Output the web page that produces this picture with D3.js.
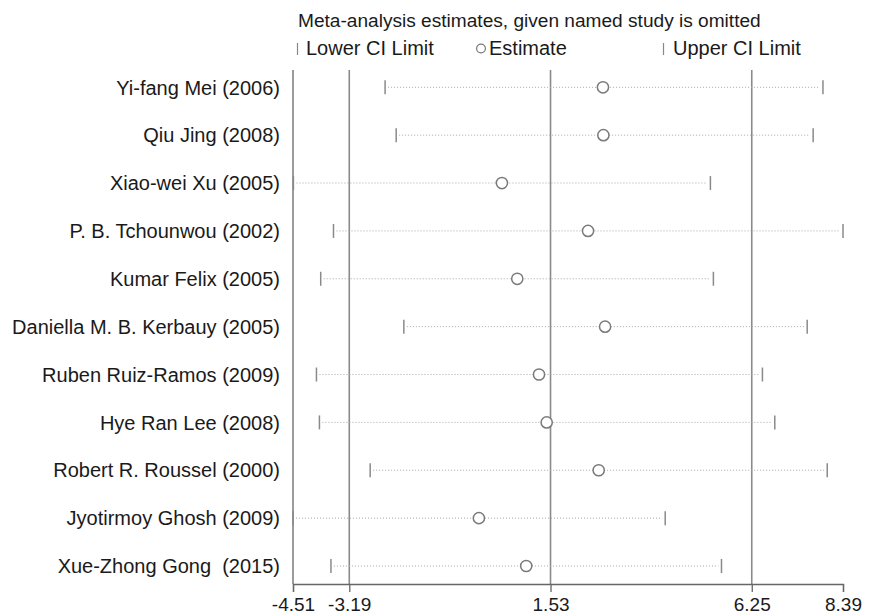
<!DOCTYPE html>
<html>
<head>
<meta charset="utf-8">
<script src="https://cdn.jsdelivr.net/npm/d3@7"></script>
<style>
  html, body { margin: 0; padding: 0; background: #fff; }
  svg { display: block; font-family: "Liberation Sans", Arial, sans-serif; }
</style>
</head>
<body>
<svg id="chart" width="870" height="616"></svg>
<script>
// Influence analysis: pooled estimate with each study left out in turn
const studies = [
  "Yi-fang Mei (2006)",
  "Qiu Jing (2008)",
  "Xiao-wei Xu (2005)",
  "P. B. Tchounwou (2002)",
  "Kumar Felix (2005)",
  "Daniella M. B. Kerbauy (2005)",
  "Ruben Ruiz-Ramos (2009)",
  "Hye Ran Lee (2008)",
  "Robert R. Roussel (2000)",
  "Jyotirmoy Ghosh (2009)",
  "Xue-Zhong Gong  (2015)"
];
const estimate = [2.76, 2.77, 0.39, 2.41, 0.75, 2.81, 1.26, 1.44, 2.66, -0.15, 0.96];
const lowerCI  = [-2.35, -2.09, -4.50, -3.56, -3.86, -1.91, -3.96, -3.89, -2.70, -4.51, -3.62];
const upperCI  = [7.92, 7.69, 5.28, 8.39, 5.35, 7.55, 6.50, 6.79, 8.02, 4.22, 5.54];

// Overall estimate and its confidence limits (reference lines)
const overall = [-3.19, 1.53, 6.25];
const tickValues = [-4.51, -3.19, 1.53, 6.25, 8.39];

const titleText = "Meta-analysis estimates, given named study is omitted";
const legendLabels = ["Lower CI Limit", "Estimate", "Upper CI Limit"];

const rows = studies.map((s, i) => ({
  study: s, est: estimate[i], lo: lowerCI[i], hi: upperCI[i]
}));

const svg = d3.select("#chart");
const textColor = "#1a1a1a";

const x = d3.scaleLinear().domain([-4.51, 8.39]).range([293, 843]);
const y = d3.scalePoint().domain(studies).range([87.3, 566]);
const plotTop = 70, axisY = 584;

// Title and legend
svg.append("text")
  .attr("x", 298).attr("y", 27)
  .attr("font-size", 19.1).attr("fill", textColor)
  .text(titleText);

const lg = svg.append("g");
lg.append("line").attr("x1", 297.5).attr("x2", 297.5).attr("y1", 43).attr("y2", 55)
  .attr("stroke", "#888").attr("stroke-width", 1.2);
lg.append("text").attr("x", 306).attr("y", 55)
  .attr("font-size", 20).attr("fill", textColor).text(legendLabels[0]);
lg.append("circle").attr("cx", 481).attr("cy", 48.5).attr("r", 4.4)
  .attr("fill", "#fff").attr("stroke", "#777").attr("stroke-width", 1.2);
lg.append("text").attr("x", 489).attr("y", 55)
  .attr("font-size", 20).attr("fill", textColor).text(legendLabels[1]);
lg.append("line").attr("x1", 663.5).attr("x2", 663.5).attr("y1", 43).attr("y2", 55)
  .attr("stroke", "#888").attr("stroke-width", 1.2);
lg.append("text").attr("x", 673).attr("y", 55)
  .attr("font-size", 20).attr("fill", textColor).text(legendLabels[2]);

// Reference lines at the overall estimate and CI
svg.append("g").selectAll("line").data(overall).join("line")
  .attr("x1", d => x(d)).attr("x2", d => x(d))
  .attr("y1", plotTop).attr("y2", axisY)
  .attr("stroke", "#8a8a8a").attr("stroke-width", 1.6);

// Left axis line
svg.append("line")
  .attr("x1", x(-4.51)).attr("x2", x(-4.51))
  .attr("y1", plotTop).attr("y2", axisY)
  .attr("stroke", "#666").attr("stroke-width", 1.3);

// Bottom axis
const xAxis = d3.axisBottom(x)
  .tickValues(tickValues)
  .tickSize(8)
  .tickPadding(6)
  .tickFormat(d => d.toFixed(2));
const ax = svg.append("g").attr("transform", `translate(0,${axisY})`).call(xAxis);
ax.select(".domain").attr("stroke", "#666").attr("stroke-width", 1.3);
ax.selectAll(".tick line").attr("stroke", "#666").attr("stroke-width", 1.3);
ax.selectAll(".tick text")
  .attr("font-size", 19).attr("fill", textColor)
  .attr("font-family", "Liberation Sans, Arial, sans-serif");

// Study labels
svg.append("g").selectAll("text").data(rows).join("text")
  .attr("x", 280).attr("y", d => y(d.study))
  .attr("dy", "0.36em")
  .attr("text-anchor", "end")
  .attr("font-size", 20).attr("fill", textColor)
  .style("white-space", "pre")
  .attr("xml:space", "preserve")
  .text(d => d.study);

// CI dotted lines
const marks = svg.append("g");
marks.selectAll("line.ci").data(rows).join("line")
  .attr("class", "ci")
  .attr("x1", d => x(d.lo) + 3).attr("x2", d => x(d.hi) - 3)
  .attr("y1", d => y(d.study)).attr("y2", d => y(d.study))
  .attr("stroke", "#a8a8a8").attr("stroke-width", 1)
  .attr("stroke-dasharray", "1,2");

// CI limit caps
marks.selectAll("line.lo").data(rows).join("line")
  .attr("class", "lo")
  .attr("x1", d => x(d.lo)).attr("x2", d => x(d.lo))
  .attr("y1", d => y(d.study) - 7).attr("y2", d => y(d.study) + 7)
  .attr("stroke", "#8a8a8a").attr("stroke-width", 1.5);
marks.selectAll("line.hi").data(rows).join("line")
  .attr("class", "hi")
  .attr("x1", d => x(d.hi)).attr("x2", d => x(d.hi))
  .attr("y1", d => y(d.study) - 7).attr("y2", d => y(d.study) + 7)
  .attr("stroke", "#8a8a8a").attr("stroke-width", 1.5);

// Point estimates
marks.selectAll("circle").data(rows).join("circle")
  .attr("cx", d => x(d.est)).attr("cy", d => y(d.study))
  .attr("r", 5.6)
  .attr("fill", "#fff").attr("stroke", "#7a7a7a").attr("stroke-width", 1.5);
</script>
</body>
</html>
